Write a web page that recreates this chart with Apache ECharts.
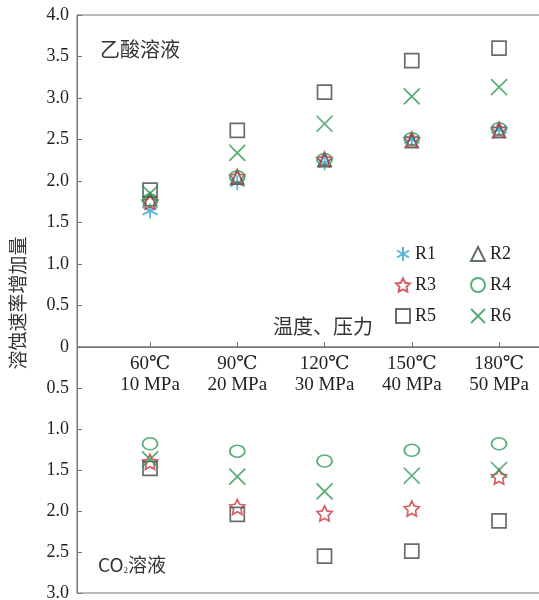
<!DOCTYPE html>
<html>
<head>
<meta charset="utf-8">
<script src="https://cdn.jsdelivr.net/npm/echarts@6/dist/echarts.min.js"></script>
<style>
html, body { margin: 0; padding: 0; background: #fff; }
#main { width: 539px; height: 600px; }
</style>
</head>
<body>
<div id="main"></div>
<script>
// 温度、压力 categories
var tempLabels = ['60℃', '90℃', '120℃', '150℃', '180℃'];
var pressLabels = ['10 MPa', '20 MPa', '30 MPa', '40 MPa', '50 MPa'];

// 乙酸溶液 (upper panel)
var acidR1 = [1.64, 1.98, 2.22, 2.50, 2.62];
var acidR2 = [1.78, 2.04, 2.25, 2.48, 2.60];
var acidR3 = [1.75, 2.05, 2.26, 2.50, 2.62];
var acidR4 = [1.77, 2.05, 2.26, 2.51, 2.63];
var acidR5 = [1.89, 2.61, 3.07, 3.45, 3.60];
var acidR6 = [1.85, 2.34, 2.69, 3.02, 3.13];

// CO2溶液 (lower panel, axis runs downward)
var co2R3 = [1.40, 1.95, 2.03, 1.97, 1.58];
var co2R4 = [1.18, 1.27, 1.39, 1.26, 1.18];
var co2R5 = [1.48, 2.04, 2.55, 2.49, 2.12];
var co2R6 = [1.37, 1.58, 1.76, 1.57, 1.50];

var serif = '"Liberation Serif", "DejaVu Serif", serif';
var cjk = '"Noto Sans CJK SC", sans-serif';

var starPath = 'path://M5,0L6.469,2.977L9.755,3.455L7.378,5.773L7.939,9.045L5,7.5L2.061,9.045L2.622,5.773L0.245,3.455L3.531,2.977Z';
var crossPath = 'path://M0,0L10,10M10,0L0,10';
var asterPath = 'path://M5,0L5,10M0.7,2.5L9.3,7.5M0.7,7.5L9.3,2.5';

var colors = {
    R1: '#2aa3d3', R2: '#3c4a4a', R3: '#d1343f',
    R4: '#2f9a5b', R5: '#3f4848', R6: '#2b9a4f'
};
var symbols = {
    R1: [asterPath, 15], R2: ['triangle', 13], R3: [starPath, 15],
    R4: ['circle', [15, 12]], R5: ['rect', 14], R6: [crossPath, 16]
};

function mk(name, vals, gi) {
    return {
        name: name,
        type: 'scatter',
        xAxisIndex: gi,
        yAxisIndex: gi,
        symbol: symbols[name][0],
        symbolSize: symbols[name][1],
        data: vals.map(function (v, i) { return [i + 1, v]; }),
        itemStyle: { color: 'transparent', borderColor: colors[name], borderWidth: 1.7 },
        emphasis: { disabled: true },
        z: 3
    };
}

var xRange = { min: 0.163, max: 5.481 };
var lineGray = '#777';

var chart = echarts.init(document.getElementById('main'));
var option = {
    animation: false,
    grid: [
        { left: 77, right: -2, top: 15, height: 332, containLabel: false, outerBoundsMode: 'none',
          show: true, borderColor: lineGray, borderWidth: 1 },
        { left: 77, right: -2, top: 347, height: 246, containLabel: false, outerBoundsMode: 'none',
          show: true, borderColor: lineGray, borderWidth: 1 }
    ],
    xAxis: [
        {
            gridIndex: 0,
            type: 'value',
            min: xRange.min,
            max: xRange.max,
            position: 'bottom',
            axisLine: { onZero: false, lineStyle: { color: lineGray } },
            axisTick: { inside: true, length: 5, customValues: [1, 2, 3, 4, 5], lineStyle: { color: lineGray } },
            axisLabel: {
                customValues: [1, 2, 3, 4, 5],
                margin: 7,
                fontFamily: serif,
                fontSize: 19,
                lineHeight: 21,
                color: '#222',
                formatter: function (v) {
                    var i = Math.round(v) - 1;
                    return tempLabels[i] + '\n' + pressLabels[i];
                }
            },
            splitLine: { show: false }
        },
        {
            gridIndex: 1,
            type: 'value',
            min: xRange.min,
            max: xRange.max,
            show: false
        }
    ],
    yAxis: [
        {
            gridIndex: 0,
            type: 'value',
            min: 0,
            max: 4,
            interval: 0.5,
            axisLine: { show: true, onZero: false, lineStyle: { color: lineGray } },
            axisTick: { show: true, inside: true, length: 5, lineStyle: { color: lineGray } },
            axisLabel: {
                fontFamily: serif, fontSize: 18, color: '#222', margin: 8,
                formatter: function (v) { return v === 0 ? '0' : v.toFixed(1); }
            },
            splitLine: { show: false }
        },
        {
            gridIndex: 1,
            type: 'value',
            min: 0,
            max: 3,
            interval: 0.5,
            inverse: true,
            axisLine: { show: true, onZero: false, lineStyle: { color: lineGray } },
            axisTick: { show: true, inside: true, length: 5, lineStyle: { color: lineGray } },
            axisLabel: {
                showMinLabel: false,
                fontFamily: serif, fontSize: 18, color: '#222', margin: 8,
                formatter: function (v) { return v === 0 ? '' : v.toFixed(1); }
            },
            splitLine: { show: false }
        }
    ],
    legend: [
        {
            orient: 'vertical',
            left: 390, top: 240,
            itemWidth: 14, itemHeight: 14, itemGap: 13,
            textStyle: { fontFamily: serif, fontSize: 18, color: '#222' },
            data: ['R1', 'R3', 'R5']
        },
        {
            orient: 'vertical',
            left: 465, top: 240,
            itemWidth: 14, itemHeight: 14, itemGap: 13,
            textStyle: { fontFamily: serif, fontSize: 18, color: '#222' },
            data: ['R2', 'R4', 'R6']
        }
    ],
    graphic: [
        { type: 'text', left: 100, top: 39, style: { text: '乙酸溶液', font: '20px ' + cjk, fill: '#333' } },
        { type: 'text', left: 273, top: 316, style: { text: '温度、压力', font: '20px ' + cjk, fill: '#333' } },
        {
            type: 'text', left: 98, top: 555,
            style: {
                text: '{a|CO}{b|2}{a|溶液}',
                rich: {
                    a: { fontFamily: cjk, fontSize: 19, fill: '#333', color: '#333' },
                    b: { fontFamily: serif, fontSize: 9, fill: '#333', color: '#333', padding: [12, 0, 0, 0] }
                }
            }
        },
        {
            type: 'text', x: 18, y: 303, rotation: Math.PI / 2,
            style: { text: '溶蚀速率增加量', font: '19px ' + cjk, fill: '#333', align: 'center', verticalAlign: 'middle' }
        }
    ],
    series: [
        mk('R1', acidR1, 0),
        mk('R2', acidR2, 0),
        mk('R3', acidR3, 0),
        mk('R4', acidR4, 0),
        mk('R5', acidR5, 0),
        mk('R6', acidR6, 0),
        mk('R3', co2R3, 1),
        mk('R4', co2R4, 1),
        mk('R5', co2R5, 1),
        mk('R6', co2R6, 1)
    ]
};
chart.setOption(option);
</script>
</body>
</html>
